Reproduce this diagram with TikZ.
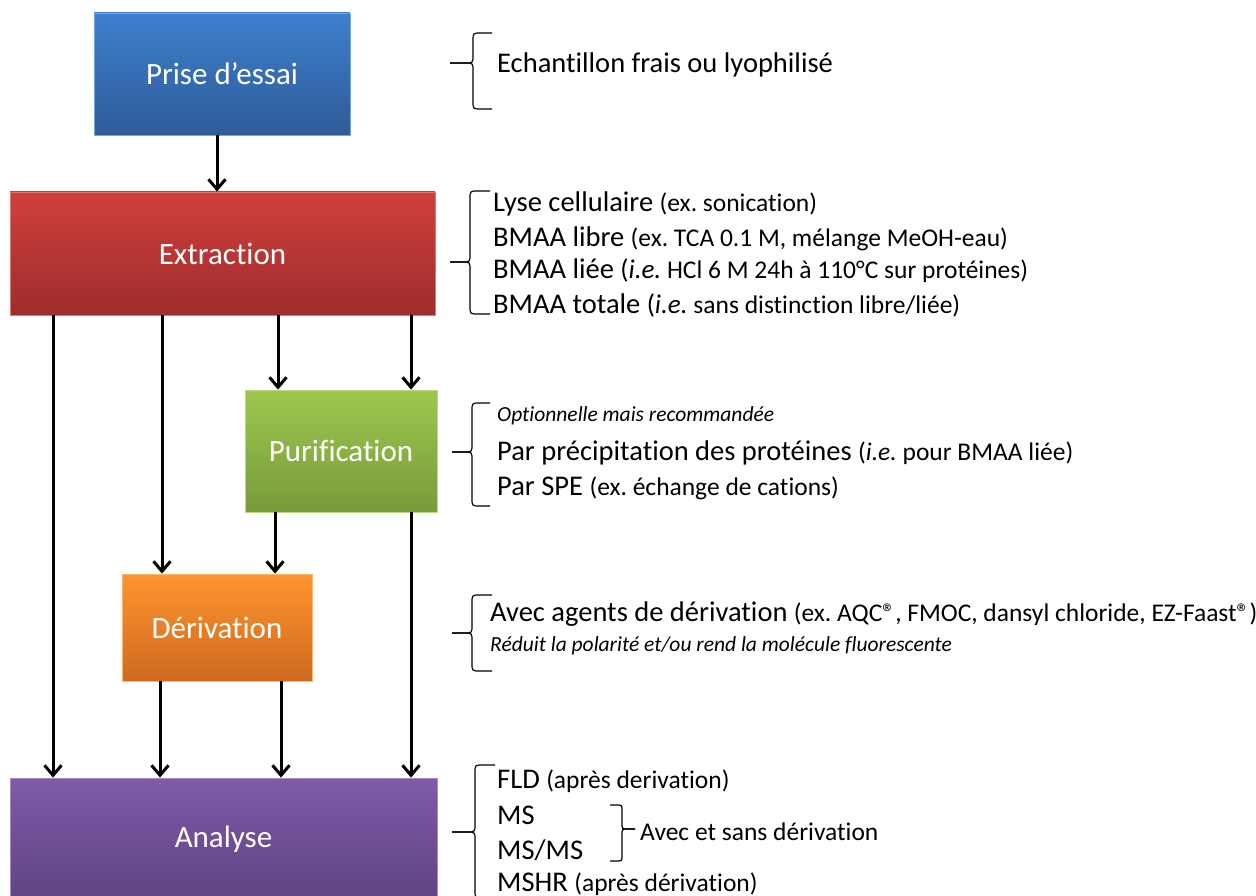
\documentclass[tikz,border=0pt]{standalone}
\usepackage{fontspec}
\setmainfont{Carlito}[Ligatures={TeX,NoCommon}]
\usetikzlibrary{arrows.meta}
\newcommand{\szBox}{\fontsize{31}{36}\selectfont}
\newcommand{\szM}{\fontsize{28.5}{33}\selectfont}
\newcommand{\szS}{\fontsize{25.5}{30}\selectfont}
\newcommand{\szI}{\fontsize{21.5}{25}\selectfont}
% brace: #1 xtip, #2 xvert, #3 xend, #4 ytop, #5 ytip, #6 ybot, #7 signed radius (towards ends)
\newcommand{\offbrace}[7]{%
  \draw[bracestyle] (#3,#4) -- ({#2+#7},#4) .. controls (#2,#4) .. (#2,{#4+abs(#7)})
    -- (#2,{#5-abs(#7)}) .. controls (#2,#5) .. ({#2-#7},#5) -- (#1,#5);
  \draw[bracestyle] (#1,#5) -- ({#2-#7},#5) .. controls (#2,#5) .. (#2,{#5+abs(#7)})
    -- (#2,{#6-abs(#7)}) .. controls (#2,#6) .. ({#2+#7},#6) -- (#3,#6);
}
\definecolor{bluetop}{HTML}{3E7FCD}\definecolor{bluebot}{HTML}{2E5C98}
\definecolor{redtop}{HTML}{D03F3C}\definecolor{redbot}{HTML}{9E2D2C}
\definecolor{greentop}{HTML}{9DC84F}\definecolor{greenbot}{HTML}{789A3A}
\definecolor{orangetop}{HTML}{FF9430}\definecolor{orangebot}{HTML}{CD6A1E}
\definecolor{purpletop}{HTML}{7F5AA8}\definecolor{purplebot}{HTML}{5E4382}
\tikzset{
  stage/.style={inner sep=0pt, text=white, font=\szBox, line width=0.8pt},
  arr/.style={line width=3pt, -{Straight Barb[length=10pt,width=17pt,line width=3pt]}},
  bracestyle/.style={line width=1.2pt, black},
  txt/.style={anchor=west, inner sep=0pt, text=black},
}
\frenchspacing
\begin{document}
\frenchspacing
\begin{tikzpicture}[x=1pt,y=-1pt]
\useasboundingbox (0,0) rectangle (1256,896);
\clip (0,0) rectangle (1256,896);
% stage boxes
\node[stage, draw=bluetop!70!white, top color=bluetop, bottom color=bluebot,
  minimum width=256pt, minimum height=122pt] (pri) at (222,74) {Prise d’essai};
\node[stage, draw=redtop!70!white, top color=redtop, bottom color=redbot,
  minimum width=425pt, minimum height=123pt] (ext) at (222.5,253.5) {Extraction};
\node[stage, draw=greentop!70!white, top color=greentop, bottom color=greenbot,
  minimum width=192pt, minimum height=122pt] (pur) at (341,451) {Purification};
\node[stage, draw=orangetop!70!white, top color=orangetop, bottom color=orangebot,
  minimum width=190pt, minimum height=107pt] (der) at (217,627.5) {Dérivation};
\node[stage, draw=purpletop!70!white, top color=purpletop, bottom color=purplebot,
  minimum width=427pt, minimum height=123pt] (ana) at (223.5,839.5) {Analyse};
% arrow x positions
\path (217,0) coordinate (xP) (53,0) coordinate (xA) (162,0) coordinate (xB)
      (278,0) coordinate (xC) (411,0) coordinate (xD) (275,0) coordinate (xC2)
      (160,0) coordinate (xE) (281,0) coordinate (xF);
\draw[arr] (xP |- pri.south) -- (xP |- ext.north);
\draw[arr] (xA |- ext.south) -- (xA |- ana.north);
\draw[arr] (xB |- ext.south) -- (xB |- der.north);
\draw[arr] (xC |- ext.south) -- (xC |- pur.north);
\draw[arr] (xD |- ext.south) -- (xD |- pur.north);
\draw[arr] (xC2 |- pur.south) -- (xC2 |- der.north);
\draw[arr] (xD |- pur.south) -- (xD |- ana.north);
\draw[arr] (xE |- der.south) -- (xE |- ana.north);
\draw[arr] (xF |- der.south) -- (xF |- ana.north);
% braces
\offbrace{450}{473}{492}{33}{63}{109}{8}
\offbrace{450}{470}{490}{191}{262}{314}{8}
\offbrace{452}{472}{490}{403}{452}{506}{8}
\offbrace{452}{472}{492}{595}{633}{671}{8}
\offbrace{452}{475}{495}{765}{832}{898}{8}
\offbrace{635}{622}{610}{805}{829}{861}{-6}
% texts
\node[txt, font=\szM] (t0) at (497,65) {Echantillon frais ou lyophilisé};
\node[txt, font=\szM] (t1) at (493,204) {Lyse cellulaire {\szS (ex. sonication)}};
\node[txt, font=\szM] (t2) at (493,239) {BMAA libre {\szS (ex. TCA 0.1 M, mélange MeOH-eau)}};
\node[txt, font=\szM] (t3) at (493,271) {BMAA liée {\fontsize{27}{32}\selectfont(\textit{i.e.}}{\szS\ HCl 6 M 24h à 110°C sur protéines)}};
\node[txt, font=\szM] (t4) at (493,305) {BMAA totale {\fontsize{27}{32}\selectfont(\textit{i.e.}}{\szS\ sans distinction libre/liée)}};
\node[txt, font=\szI] (p0) at (497,416) {\textit{Optionnelle mais recommandée}};
\node[txt, font=\szM] (p1) at (497,453) {Par précipitation des protéines {\szS (\textit{i.e.} pour BMAA liée)}};
\node[txt, font=\szM] (p2) at (497,488) {Par SPE {\szS (ex. échange de cations)}};
\node[txt, font=\szM] (d1) at (490,614) {Avec agents de dérivation {\szS (ex. AQC®, FMOC, dansyl chloride, EZ-Faast®)}};
\node[txt, font=\szI] (d2) at (490,646) {\textit{Réduit la polarité et/ou rend la molécule fluorescente}};
\node[txt, font=\szM] (a1) at (497,781) {FLD {\szS (après derivation)}};
\node[txt, font=\szM] (a2) at (497,815) {MS};
\node[txt, font=\szM] (a3) at (497,850) {MS/MS};
\node[txt, font=\szM] (a4) at (497,884) {MSHR {\szS (après dérivation)}};
\node[txt, font=\szS] (a5) at (640,832) {Avec et sans dérivation};
\end{tikzpicture}
\end{document}
